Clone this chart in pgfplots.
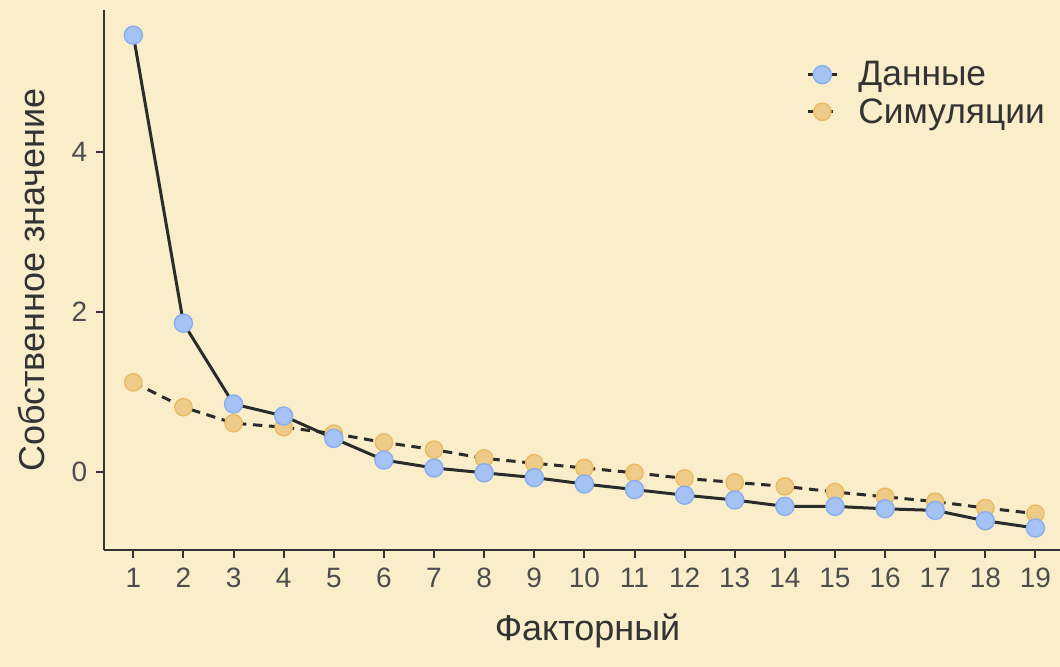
\documentclass[border=0pt]{standalone}
\usepackage{fontspec}
\setmainfont{Liberation Sans}
\usepackage{pgfplots}
\pgfplotsset{compat=1.18}

\definecolor{bg}{HTML}{FAEDCA}
\definecolor{axcol}{HTML}{333333}
\definecolor{tickcol}{HTML}{4D4D4D}
\definecolor{bluefill}{HTML}{A4C2F4}
\definecolor{blueedge}{HTML}{86AEF0}
\definecolor{orfill}{HTML}{EFCB8A}
\definecolor{oredge}{HTML}{E8BB62}
\definecolor{linecol}{HTML}{2B2B2B}

% scree plot: observed vs simulated eigenvalues
\pgfplotstableread{
f data sim
1  5.46  1.12
2  1.86  0.81
3  0.85  0.61
4  0.70  0.56
5  0.42  0.48
6  0.15  0.37
7  0.05  0.28
8  -0.01 0.17
9  -0.07 0.11
10 -0.15 0.05
11 -0.22 -0.01
12 -0.29 -0.08
13 -0.35 -0.13
14 -0.43 -0.18
15 -0.43 -0.25
16 -0.46 -0.31
17 -0.48 -0.37
18 -0.61 -0.45
19 -0.70 -0.52
}\eigtab

\begin{document}
\begin{tikzpicture}
\fill[bg] (0,0) rectangle (795pt,500.25pt);
\begin{axis}[
  at={(78pt,87.75pt)}, anchor=south west,
  scale only axis, width=717pt, height=405pt,
  xmin=0.415, xmax=19.49, ymin=-0.975, ymax=5.775,
  axis lines=left,
  axis line style={-, axcol, line width=1.5pt},
  clip=false,
  xtick={1,...,19}, ytick={0,2,4},
  tick align=outside,
  major tick length=6pt,
  tick style={axcol, line width=1.5pt},
  /pgf/number format/assume math mode=true,
  ticklabel style={font=\fontsize{21}{25}\selectfont, text=tickcol},
  xticklabel style={yshift=-4pt},
  yticklabel style={xshift=-3pt},
  xlabel={Факторный},
  ylabel={Собственное значение},
  xlabel style={font=\fontsize{27}{32}\selectfont, text=axcol, at={(axis description cs:0.5058,-0.150)}, anchor=center},
  ylabel style={font=\fontsize{27}{32}\selectfont, text=axcol, at={(axis description cs:-0.0755,0.5)}, anchor=center, rotate=0},
  legend style={draw=none, fill=none, at={(axis description cs:0.730,0.915)}, anchor=north west,
    font=\fontsize{26.5}{32}\selectfont, text=axcol, row sep=4pt,
    /tikz/every even column/.append style={column sep=4pt},
    /tikz/every odd column/.append style={column sep=13pt}},
  legend cell align=left,
  reverse legend,
  legend image code/.code={\draw[#1, mark repeat=2, mark phase=2] plot coordinates {(0pt,0pt) (11pt,0pt) (22pt,0pt)};},
]
\addplot[linecol, line width=2.25pt, dash pattern=on 7pt off 5pt,
  mark=*, mark size=6.5pt, mark options={solid, fill=orfill, draw=oredge, line width=1pt}]
  table[x=f, y=sim] {\eigtab};
\addlegendentry{Симуляции}
\addplot[linecol, line width=2.25pt,
  mark=*, mark size=6.8pt, mark options={solid, fill=bluefill, draw=blueedge, line width=1pt}]
  table[x=f, y=data] {\eigtab};
\addlegendentry{Данные}
\end{axis}
\pgfresetboundingbox
\path (0,0) rectangle (795pt,500.25pt);
\end{tikzpicture}
\end{document}
